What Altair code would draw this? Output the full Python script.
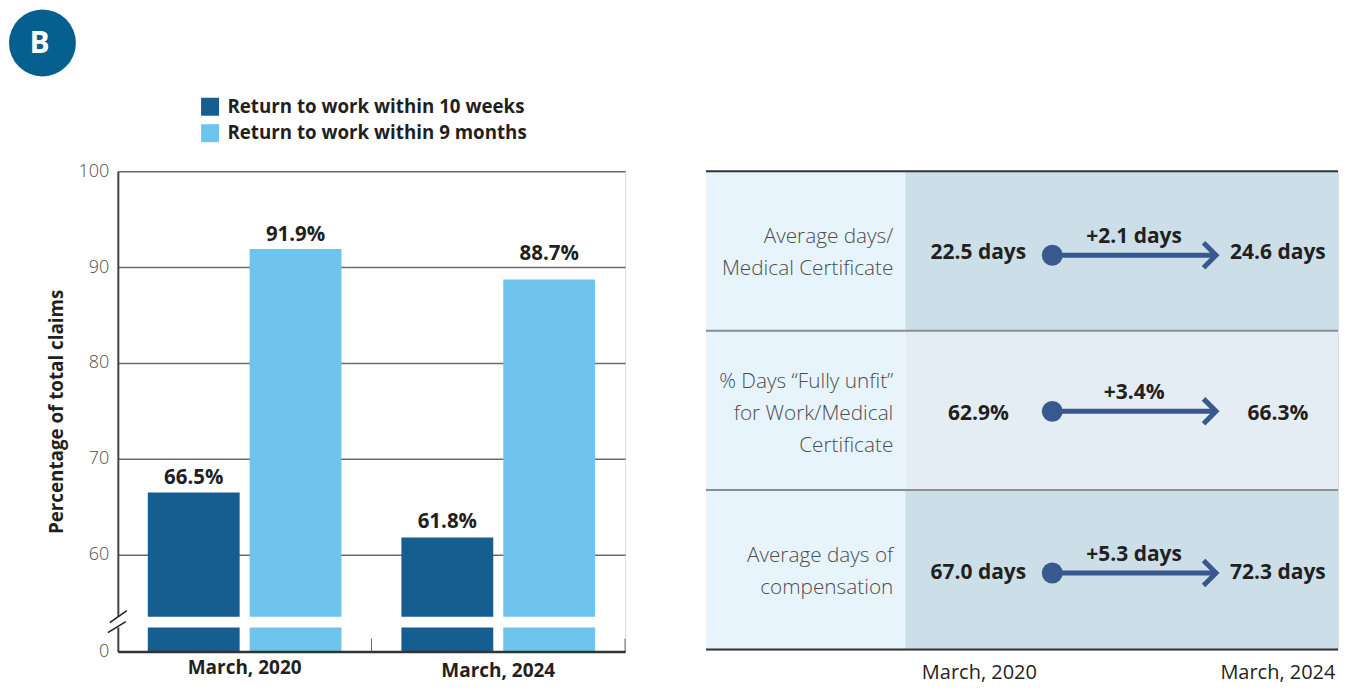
import altair as alt
import pandas as pd

FONT = "Open Sans"
INK = "#231f20"

# ---------- left panel data
periods = ["March, 2020", "March, 2024"]
series = ["Return to work within 10 weeks", "Return to work within 9 months"]
series_colors = ["#165e8f", "#6ec4ed"]
values_10_weeks = [66.5, 61.8]
values_9_months = [91.9, 88.7]
label_at_10_weeks = [66.5, 62.0]
label_at_9_months = [91.9, 89.95]
y_ticks = [0, 60, 70, 80, 90, 100]
break_band = [14.85, 21.6]
break_y_low = [17.9, 11.75]
break_y_high = [25.4, 18.55]

rows_left = []
for i, p in enumerate(periods):
    rows_left.append({"period": p, "series": series[0], "value": values_10_weeks[i], "at": label_at_10_weeks[i], "label": f"{values_10_weeks[i]:.1f}%"})
    rows_left.append({"period": p, "series": series[1], "value": values_9_months[i], "at": label_at_9_months[i], "label": f"{values_9_months[i]:.1f}%"})
bars_df = pd.DataFrame(rows_left)

W1, H1 = 508, 481
y_scale = alt.Scale(domain=[0, 60, 100], range=[H1, H1 - 97, 0], nice=False, zero=False)
x_band = alt.Scale(domain=periods, paddingInner=0, paddingOuter=0)
offset_scale = alt.Scale(domain=series, paddingInner=10 / 102, paddingOuter=30 / 102)

x_enc = alt.X(
    "period:N", scale=x_band, title=None,
    axis=alt.Axis(
        labelAngle=0, ticks=False, domainColor="#333333", domainWidth=2.5, zindex=1,
        labelFont=FONT, labelFontWeight="bold", labelFontSize=19, labelColor=INK,
        labelPadding=alt.expr("datum.value == 'March, 2024' ? 10 : 7"),
    ),
)
xo_enc = alt.XOffset("series:N", scale=offset_scale)
y_enc = alt.Y(
    "value:Q", scale=y_scale,
    title="Percentage of total claims",
    axis=alt.Axis(
        values=y_ticks, ticks=False, grid=True, gridColor="#6b6b6b", gridWidth=1.5,
        domainColor="#444444", domainWidth=2, labelPadding=9, labelOverlap=False,
        labelFont=FONT, labelFontSize=18, labelFontWeight=300, labelColor="#4d4d4d",
        titleFont=FONT, titleFontSize=18.8, titleFontWeight="bold", titleColor=INK, titlePadding=12,
    ),
)

bars = alt.Chart(bars_df).mark_bar(size=92).encode(
    x=x_enc, xOffset=xo_enc, y=y_enc,
    color=alt.Color(
        "series:N", scale=alt.Scale(domain=series, range=series_colors), title=None,
        legend=alt.Legend(
            orient="none", legendX=83, legendY=-74, symbolType="square", symbolSize=324,
            symbolStrokeWidth=0, symbolOpacity=1, labelFont=FONT, labelFontSize=18.75, labelFontWeight="bold",
            labelColor=INK, labelLimit=400, rowPadding=6.5, labelOffset=8,
        ),
    ),
)
bar_text = alt.Chart(bars_df).mark_text(
    baseline="bottom", dy=-4, font=FONT, fontSize=20.5, fontWeight="bold", color=INK
).encode(x=alt.X("period:N", scale=x_band), xOffset=xo_enc,
         y=alt.Y("at:Q", scale=y_scale), text="label:N")

gap = alt.Chart(pd.DataFrame({"a": [break_band[0]], "b": [break_band[1]]})).mark_rect(color="white").encode(
    x=alt.value(-3), x2=alt.value(W1), y=alt.Y("a:Q", scale=y_scale), y2="b:Q"
)
break_df = pd.DataFrame({"lo": break_y_low, "hi": break_y_high})
breaks = alt.layer(
    alt.Chart(break_df.iloc[[0]]).mark_rule(color=INK, strokeWidth=1.5).encode(
        x=alt.value(-8), x2=alt.value(9), y=alt.Y("lo:Q", scale=y_scale), y2="hi:Q"),
    alt.Chart(break_df.iloc[[1]]).mark_rule(color=INK, strokeWidth=1.5).encode(
        x=alt.value(-10), x2=alt.value(8), y=alt.Y("lo:Q", scale=y_scale), y2="hi:Q"),
)
band_ticks = alt.Chart(pd.DataFrame({"period": periods, "a": [0, 0], "b": [8, 8]})).mark_rule(
    color="#666666", strokeWidth=1).encode(
    x=alt.X("period:N", scale=x_band, bandPosition=1),
    y=alt.Y("a:Q", scale=y_scale), y2="b:Q")
badge_df = pd.DataFrame({"t": ["B"]})
badge = alt.Chart(badge_df).mark_circle(color="#05608f", opacity=1, size=4489).encode(
    x=alt.value(-75.5), y=alt.value(-128.5))
badge_text = alt.Chart(badge_df).mark_text(
    font=FONT, fontSize=30, fontWeight="bold", color="white", dy=1).encode(
    x=alt.value(-78.5), y=alt.value(-128), text="t:N")

left = alt.layer(bars, band_ticks, bar_text, gap, breaks, badge, badge_text).properties(width=W1, height=H1)

# ---------- right panel data
row_labels = ["Average days/\nMedical Certificate", "% Days \u201cFully unfit\u201d\nfor Work/Medical\nCertificate", "Average days of\ncompensation"]
start_labels = ["22.5 days", "62.9%", "67.0 days"]
delta_labels = ["+2.1 days", "+3.4%", "+5.3 days"]
end_labels = ["24.6 days", "66.3%", "72.3 days"]
marker_y = [0.527, 1.506, 2.52]
text_y = [0.5125, 1.5245, 2.5185]
label_y = [0.415, 1.3215, 2.411]
row_shade = ["dark", "pale", "dark"]
year_start, year_end, year_mid = 2020, 2024, 2022
x_domain = [2011.54, 2026.98]
x_split = 2016.41
row_top = [0, 1, 2]
row_bottom = [1, 2, 3]

W2, H2 = 633, 479
xs = alt.Scale(domain=x_domain, range=[0, W2], nice=False, zero=False)
ys = alt.Scale(domain=[0, 3], range=[0, H2], nice=False, zero=False)
X = lambda f: alt.X(f, scale=xs, axis=None)
Y = lambda f: alt.Y(f, scale=ys, axis=None)

rows_df = pd.DataFrame({
    "label": row_labels, "start": start_labels, "delta": delta_labels, "end": end_labels,
    "my": marker_y, "ty": text_y, "ly": label_y, "shade": row_shade, "top": row_top, "bottom": row_bottom,
    "x0": year_start, "x1": year_end, "xm": year_mid, "xs": x_split, "xa": x_domain[0], "xb": x_domain[1],
})
shade_scale = alt.Scale(domain=["left", "dark", "pale"], range=["#e8f4fb", "#ccdfe9", "#e4edf3"])

bg_left = alt.Chart(rows_df).transform_calculate(s="'left'").mark_rect().encode(
    x=X("xa:Q"), x2="xs:Q", y=Y("top:Q"), y2="bottom:Q",
    color=alt.Color("s:N", scale=shade_scale, legend=None))
bg_right = alt.Chart(rows_df).mark_rect().encode(
    x=X("xs:Q"), x2="xb:Q", y=Y("top:Q"), y2="bottom:Q",
    color=alt.Color("shade:N", scale=shade_scale, legend=None))
lines_dark = alt.Chart(pd.DataFrame({"y": [0, 3]})).mark_rule(color="#333333", strokeWidth=2).encode(y=Y("y:Q"))
lines_grey = alt.Chart(pd.DataFrame({"y": [1, 2]})).mark_rule(color="#8a8f93", strokeWidth=2).encode(y=Y("y:Q"))

ARROW = "#39588e"
shaft = alt.Chart(rows_df).mark_rule(color=ARROW, strokeWidth=5).encode(x=X("x0:Q"), x2="x1:Q", y=Y("my:Q"))
dot = alt.Chart(rows_df).mark_circle(color=ARROW, opacity=1, size=441).encode(x=X("x0:Q"), y=Y("my:Q"))
tip = alt.Chart(rows_df).mark_point(
    shape="M-1,-1L0,0L-1,1", filled=False, stroke=ARROW, strokeWidth=5, opacity=1, size=625
).encode(x=X("x1:Q"), y=Y("my:Q"))

bold = dict(font=FONT, fontSize=21, fontWeight="bold", color=INK)
t_start = alt.Chart(rows_df).mark_text(dx=-74, **bold).encode(x=X("x0:Q"), y=Y("ty:Q"), text="start:N")
t_end = alt.Chart(rows_df).mark_text(dx=62, **bold).encode(x=X("x1:Q"), y=Y("ty:Q"), text="end:N")
t_delta = alt.Chart(rows_df).mark_text(dy=-18, **bold).encode(x=X("xm:Q"), y=Y("my:Q"), text="delta:N")
t_row = alt.Chart(rows_df).mark_text(
    align="right", dx=-12, lineBreak="\n", lineHeight=32, font=FONT, fontSize=20.8, fontWeight=300, color="#4d4d4d"
).encode(x=X("xs:Q"), y=Y("ly:Q"), text="label:N")

foot_df = pd.DataFrame({"x": [year_start, year_end], "label": periods})
t_foot0 = alt.Chart(foot_df.iloc[[0]]).mark_text(dx=-73, font=FONT, fontSize=20, color=INK).encode(
    x=X("x:Q"), y=alt.value(H2 + 23), text="label:N")
t_foot1 = alt.Chart(foot_df.iloc[[1]]).mark_text(dx=62, font=FONT, fontSize=20, color=INK).encode(
    x=X("x:Q"), y=alt.value(H2 + 23), text="label:N")

right = alt.layer(
    bg_left, bg_right, lines_dark, lines_grey, shaft, dot, tip, t_start, t_end, t_delta, t_row, t_foot0, t_foot1
).properties(width=W2, height=H2)

chart = alt.hconcat(left, right, spacing=78).resolve_scale(color="independent").properties(
    padding={"left": 0, "top": 0, "right": 0, "bottom": 0}
).configure_view(stroke=None).configure(background="white")

chart.save("out.html", embed_options={"renderer": "svg", "actions": False})
